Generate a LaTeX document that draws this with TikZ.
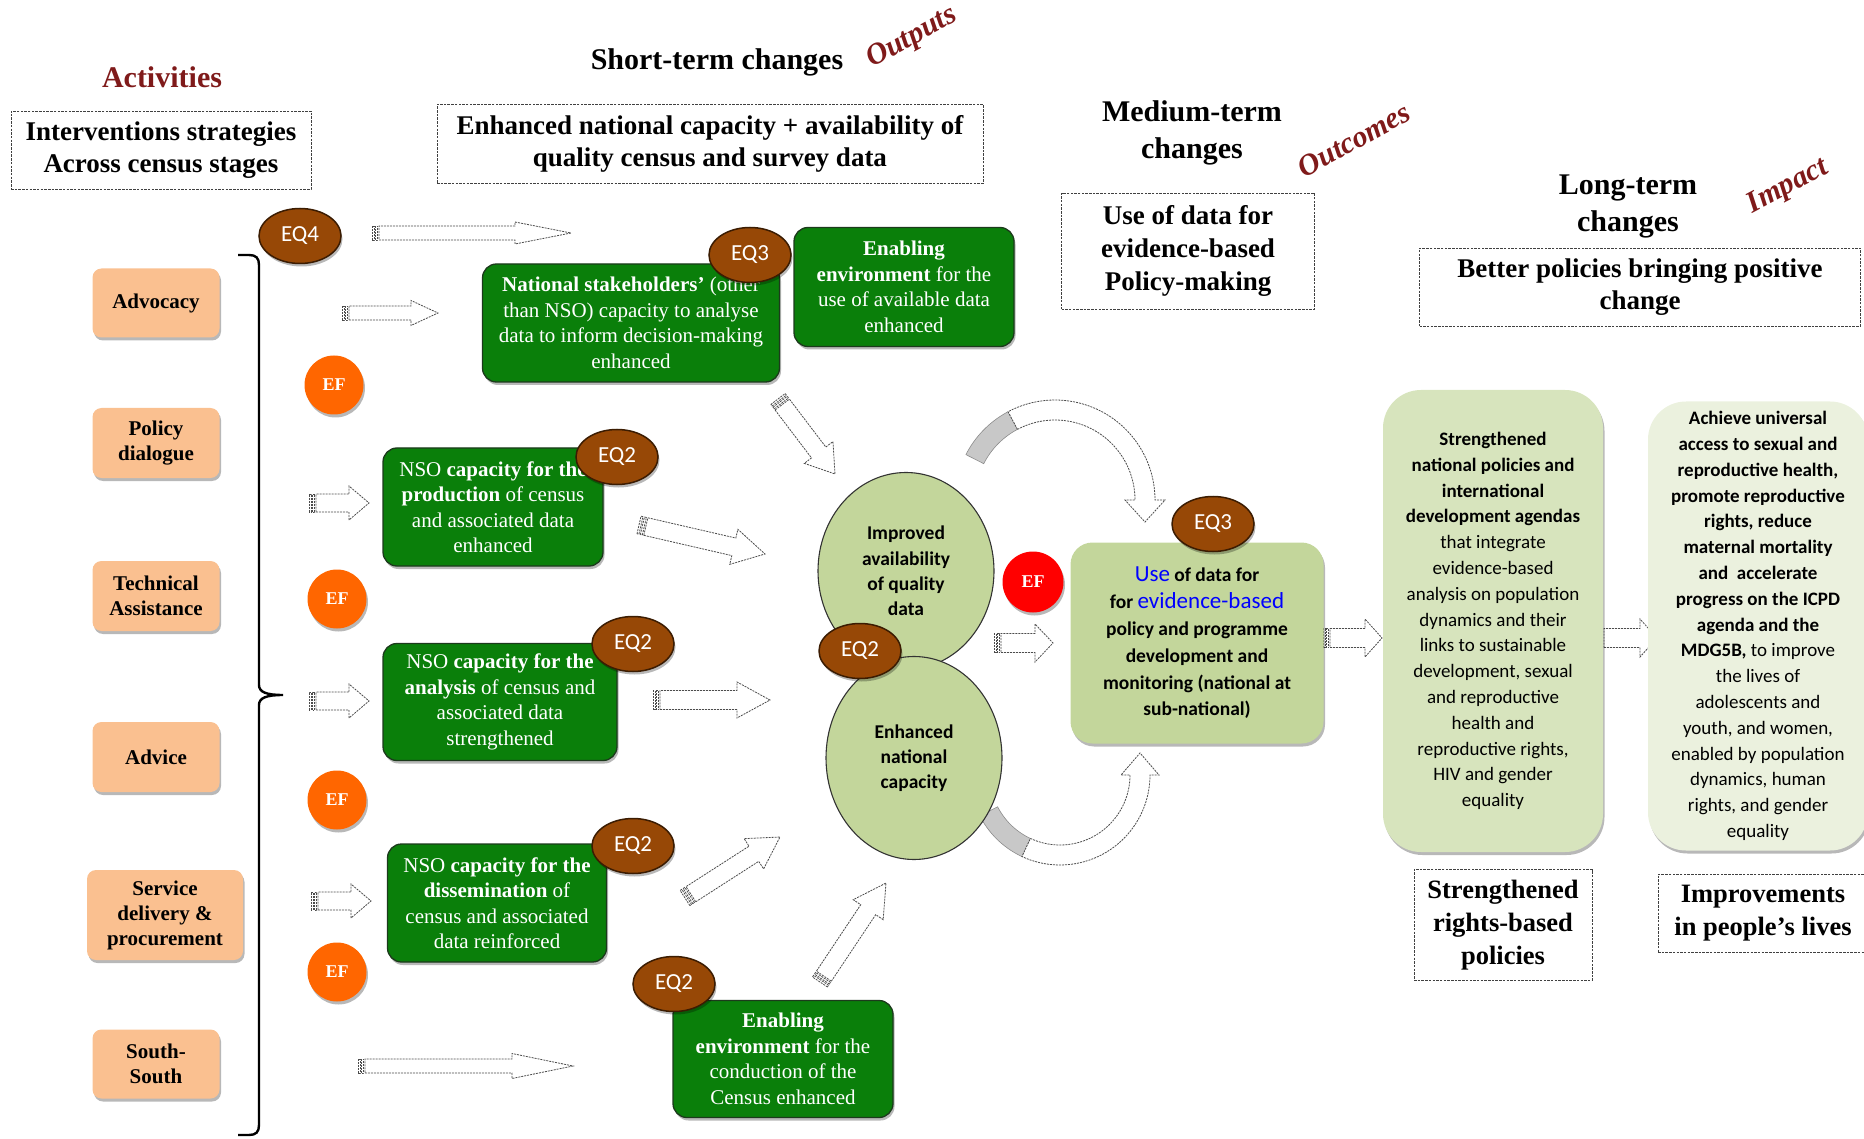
\documentclass[tikz,border=0pt]{standalone}
\usepackage{fontspec}
\setmainfont{Liberation Serif}
\newfontfamily\carl{Carlito}
\usetikzlibrary{shapes.geometric,shadows,calc}
\definecolor{actfill}{HTML}{FAC090}
\definecolor{gfill}{HTML}{0A7F0A}
\definecolor{gline}{HTML}{1C3A1C}
\definecolor{eqfill}{HTML}{974806}
\definecolor{eqline}{HTML}{3B1C02}
\definecolor{effill}{HTML}{FF6600}
\definecolor{lgfill}{HTML}{C3D69B}
\definecolor{strfill}{HTML}{D7E4BD}
\definecolor{achfill}{HTML}{EBF1DE}
\definecolor{maroon}{HTML}{7F1A1A}
\definecolor{ublue}{HTML}{0000FF}
\definecolor{arrgrey}{HTML}{C8C8C8}
\newcommand{\fsz}[2]{\fontsize{#1}{#2}\selectfont}
\newcommand{\blockarr}[5]{%
  \pgfpointdiff{\pgfpointanchor{#1}{center}}{\pgfpointanchor{#2}{center}}%
  \pgfgetlastxy{\badx}{\bady}%
  \pgfmathsetmacro{\baang}{atan2(\bady,\badx)}%
  \pgfmathsetmacro{\balen}{veclen(\badx,\bady)}%
  \begin{scope}[shift={(#1)},rotate=\baang,x=1pt,y=1pt]
    \draw[blockarrow] (7,-#3) -- ({\balen-#5},-#3) -- ({\balen-#5},-#4) -- (\balen,0) -- ({\balen-#5},#4) -- ({\balen-#5},#3) -- (7,#3) -- cycle;
    \draw[blockarrow] (0,-#3) rectangle (2,#3);
    \draw[blockarrow] (3.5,-#3) rectangle (5.5,#3);
  \end{scope}}
\begin{document}
\begin{tikzpicture}[x=1pt,y=-1pt,
  shd/.style={drop shadow={shadow xshift=1.5pt,shadow yshift=-3pt,opacity=0.28,fill=black}},
  hdr/.style={font=\fsz{30}{37}\bfseries,align=center,inner sep=0},
  phase/.style={font=\fsz{30}{36}\bfseries\itshape,text=maroon,inner sep=0},
  dbox/.style={draw=black!75,dash pattern=on 2.5pt off 1.2pt,line width=0.9pt,align=center,inner sep=0,font=\fsz{27}{32}\bfseries},
  actbox/.style={fill=actfill,rounded corners=9pt,shd,align=center,inner sep=0,font=\fsz{21}{25}\bfseries},
  gbox/.style={fill=gfill,draw=gline,line width=1.3pt,rounded corners=14pt,text=white,align=center,inner sep=0,font=\fsz{21}{25.5},shd},
  eq/.style={ellipse,fill=eqfill,draw=eqline,line width=1.5pt,text=white,minimum width=82pt,minimum height=55pt,inner sep=0,font=\carl\fsz{23}{25},shd},
  ef/.style={circle,fill=effill,minimum size=59pt,inner sep=0,text=white,font=\fsz{18}{20}\bfseries,shd},
  lgell/.style={ellipse,fill=lgfill,draw=black!80,line width=1.1pt,inner sep=0,align=center,font=\carl\fsz{19.5}{25.3}\bfseries},
  bigbox/.style={rounded corners=38pt,align=center,inner sep=0,font=\carl\fsz{19}{25.8},shd},
  blockarrow/.style={draw=black!70,fill=white,line width=0.8pt,dash pattern=on 2pt off 1pt,line join=miter}]
\useasboundingbox (0,0) rectangle (1864,1139);

% ---------- headers ----------
\node[hdr,text=maroon] (acthd) at (162,77) {Activities};
\node[hdr] (shthd) at (717,62) {Short-term changes};
\node[phase,rotate=29] (outp) at (912,38) {Outputs};
\node[hdr] (medhd) at (1192,133) {Medium-term\\changes};
\node[phase,rotate=29] (outc) at (1354,140) {Outcomes};
\node[hdr] (lnghd) at (1628,206) {Long-term\\changes};
\node[phase,rotate=28] (imp) at (1788,187) {Impact};

\node[dbox,minimum width=300pt,minimum height=78pt] (intv) at (161,150) {Interventions strategies\\Across census stages};
\node[dbox,minimum width=546pt,minimum height=79pt] (shtbox) at (710,144) {Enhanced national capacity + availability of\\quality census and survey data};
\node[dbox,minimum width=253pt,minimum height=116pt,font=\fsz{27}{33}\bfseries] (medbox) at (1188,251) {Use of data for\\evidence-based\\Policy-making};
\node[dbox,minimum width=441pt,minimum height=78pt] (lngbox) at (1640,287) {Better policies bringing positive\\change};
\node[dbox,minimum width=178pt,minimum height=111pt,font=\fsz{26.5}{33}\bfseries] (rbp) at (1503,925) {Strengthened\\rights-based\\policies};
\node[dbox,minimum width=210pt,minimum height=78pt,font=\fsz{26.5}{33}\bfseries] (ipl) at (1763,913) {Improvements\\in people's lives};

% ---------- activities ----------
\node[actbox,minimum width=127pt,minimum height=69pt] (adv) at (156,303) {Advocacy};
\node[actbox,minimum width=127pt,minimum height=70pt] (pol) at (156,443) {Policy\\dialogue};
\node[actbox,minimum width=127pt,minimum height=70pt] (tech) at (156,596) {Technical\\Assistance};
\node[actbox,minimum width=127pt,minimum height=70pt] (advice) at (156,757) {Advice};
\node[actbox,minimum width=156pt,minimum height=90pt] (serv) at (165,915) {Service\\delivery \&\\procurement};
\node[actbox,minimum width=127pt,minimum height=69pt] (south) at (156,1064) {South-\\South};

% brace
\draw[line width=2.4pt] (238,255) -- (249,255) .. controls (256,255) and (259,258) .. (259,265) -- (259,685)
  .. controls (259,692) and (266,695) .. (283,695) .. controls (266,695) and (259,698) .. (259,705)
  -- (259,1125) .. controls (259,1132) and (256,1135) .. (249,1135) -- (238,1135);

% ---------- curved arrows ----------
\fill[arrgrey,draw=black!45,line width=0.6pt] plot[variable=\t,domain=207:242,samples=20] ({1055+80*cos(\t)},{500+80*sin(\t)})
  -- plot[variable=\t,domain=242:207,samples=20] ({1055+100*cos(\t)},{500+100*sin(\t)}) -- cycle;
\draw[blockarrow] plot[variable=\t,domain=242:360,samples=40] ({1055+80*cos(\t)},{500+80*sin(\t)})
  -- (1125,500) -- (1145,522) -- (1165,500)
  -- plot[variable=\t,domain=360:242,samples=40] ({1055+100*cos(\t)},{500+100*sin(\t)}) -- cycle;
\fill[arrgrey,draw=black!45,line width=0.6pt] plot[variable=\t,domain=153:115,samples=20] ({1060+70*cos(\t)},{775+70*sin(\t)})
  -- plot[variable=\t,domain=115:153,samples=20] ({1060+90*cos(\t)},{775+90*sin(\t)}) -- cycle;
\draw[blockarrow] plot[variable=\t,domain=115:0,samples=40] ({1060+70*cos(\t)},{775+70*sin(\t)})
  -- (1121,775) -- (1140,753) -- (1159,775)
  -- plot[variable=\t,domain=0:115,samples=40] ({1060+90*cos(\t)},{775+90*sin(\t)}) -- cycle;

% ---------- straight block arrows ----------
\coordinate (a1s) at (372,233);  \coordinate (a1e) at (571,233);
\coordinate (a2s) at (342,313);  \coordinate (a2e) at (438,313);
\coordinate (a3s) at (309,503);  \coordinate (a3e) at (369,503);
\coordinate (a4s) at (309,701);  \coordinate (a4e) at (369,701);
\coordinate (a5s) at (311,901);  \coordinate (a5e) at (371,901);
\coordinate (a6s) at (358,1066); \coordinate (a6e) at (573,1066);
\coordinate (a7s) at (778,399);  \coordinate (a7e) at (835,474);
\coordinate (a8s) at (639,525);  \coordinate (a8e) at (765,554);
\coordinate (a9s) at (653,700);  \coordinate (a9e) at (770,700);
\coordinate (a10s) at (685,898); \coordinate (a10e) at (780,837);
\coordinate (a11s) at (820,982); \coordinate (a11e) at (886,883);
\coordinate (a12s) at (994,643); \coordinate (a12e) at (1053,643);
\coordinate (a13s) at (1323,638); \coordinate (a13e) at (1382,638);
\coordinate (a14s) at (1597,638); \coordinate (a14e) at (1657,638);
\blockarr{a1s}{a1e}{7}{11}{56}
\blockarr{a2s}{a2e}{7}{12.5}{27}
\blockarr{a3s}{a3e}{9}{17}{20}
\blockarr{a4s}{a4e}{9}{17}{20}
\blockarr{a5s}{a5e}{9}{17}{20}
\blockarr{a6s}{a6e}{7}{12.5}{61}
\blockarr{a7s}{a7e}{9}{18}{27}
\blockarr{a8s}{a8e}{9}{18}{32}
\blockarr{a9s}{a9e}{9.5}{18}{33}
\blockarr{a10s}{a10e}{9}{18}{31}
\blockarr{a11s}{a11e}{9}{18}{32}
\blockarr{a12s}{a12e}{9.5}{19}{18}
\blockarr{a13s}{a13e}{9.5}{19}{17}
\blockarr{a14s}{a14e}{9.5}{19}{17}

% ---------- green outputs ----------
\node[gbox,minimum width=297pt,minimum height=118pt] (gns) at (631,323) {\textbf{National stakeholders'} (other\\than NSO) capacity to analyse\\data to inform decision-making\\enhanced};
\node[gbox,minimum width=220pt,minimum height=119pt] (gee) at (904,287) {\textbf{Enabling}\\\textbf{environment} for the\\use of available data\\enhanced};
\node[gbox,minimum width=220pt,minimum height=118pt] (gprod) at (493,507) {NSO \textbf{capacity for the}\\\textbf{production} of census\\and associated data\\enhanced};
\node[gbox,minimum width=234pt,minimum height=117pt] (gana) at (500,702) {NSO \textbf{capacity for the}\\\textbf{analysis} of census and\\associated data\\strengthened};
\node[gbox,minimum width=219pt,minimum height=118pt] (gdis) at (497,903) {NSO \textbf{capacity for the}\\\textbf{dissemination} of\\census and associated\\data reinforced};
\node[gbox,minimum width=220pt,minimum height=117pt] (gcen) at (783,1059) {\textbf{Enabling}\\\textbf{environment} for the\\conduction of the\\Census enhanced};

% ---------- ellipses ----------
\node[lgell,minimum width=176pt,minimum height=197pt] (impr) at (906,571) {Improved\\availability\\of quality\\data};
\node[lgell,minimum width=176pt,minimum height=203pt] (enh) at (914,758) {Enhanced\\national\\capacity};

% ---------- outcome & impact boxes ----------
\node[fill=lgfill,rounded corners=22pt,minimum width=253pt,minimum height=201pt,align=center,inner sep=0,font=\carl\fsz{19.5}{26.8}\bfseries,shd] (use) at (1197,643)
 {{\mdseries\fsz{23}{26.8}\color{ublue}Use} of data for\\for {\mdseries\fsz{23}{26.8}\color{ublue}evidence-based}\\policy and programme\\development and\\monitoring (national at\\sub-national)};
\node[bigbox,fill=strfill,minimum width=220pt,minimum height=462pt] (strb) at (1493,621)
 {\textbf{Strengthened}\\\textbf{national policies and}\\\textbf{international}\\\textbf{development agendas}\\that integrate\\evidence-based\\analysis on population\\dynamics and their\\links to sustainable\\development, sexual\\and reproductive\\health and\\reproductive rights,\\HIV and gender\\equality};
\node[bigbox,fill=achfill,minimum width=220pt,minimum height=449pt] (ach) at (1758,626)
 {\textbf{Achieve universal}\\\textbf{access to sexual and}\\\textbf{reproductive health,}\\\textbf{promote reproductive}\\\textbf{rights, reduce}\\\textbf{maternal mortality}\\\textbf{and\ \ accelerate}\\\textbf{progress on the ICPD}\\\textbf{agenda and the}\\\textbf{MDG5B,} to improve\\the lives of\\adolescents and\\youth, and women,\\enabled by population\\dynamics, human\\rights, and gender\\equality};

% ---------- EF and EQ markers ----------
\node[ef] (ef1) at (334,385) {EF};
\node[ef] (ef2) at (337,599) {EF};
\node[ef] (ef3) at (337,800) {EF};
\node[ef] (ef4) at (337,972) {EF};
\node[ef,fill=red,minimum size=61pt] (efr) at (1033,582) {EF};

\node[eq] (eq4) at (300,236) {EQ4};
\node[eq] (eq3a) at (750,255) {EQ3};
\node[eq] (eq2p) at (617,457) {EQ2};
\node[eq] (eq2a) at (633,644) {EQ2};
\node[eq] (eq2d) at (633,846) {EQ2};
\node[eq] (eq2c) at (674,984) {EQ2};
\node[eq] (eq2m) at (860,651) {EQ2};
\node[eq] (eq3u) at (1213,524) {EQ3};
\end{tikzpicture}
\end{document}
